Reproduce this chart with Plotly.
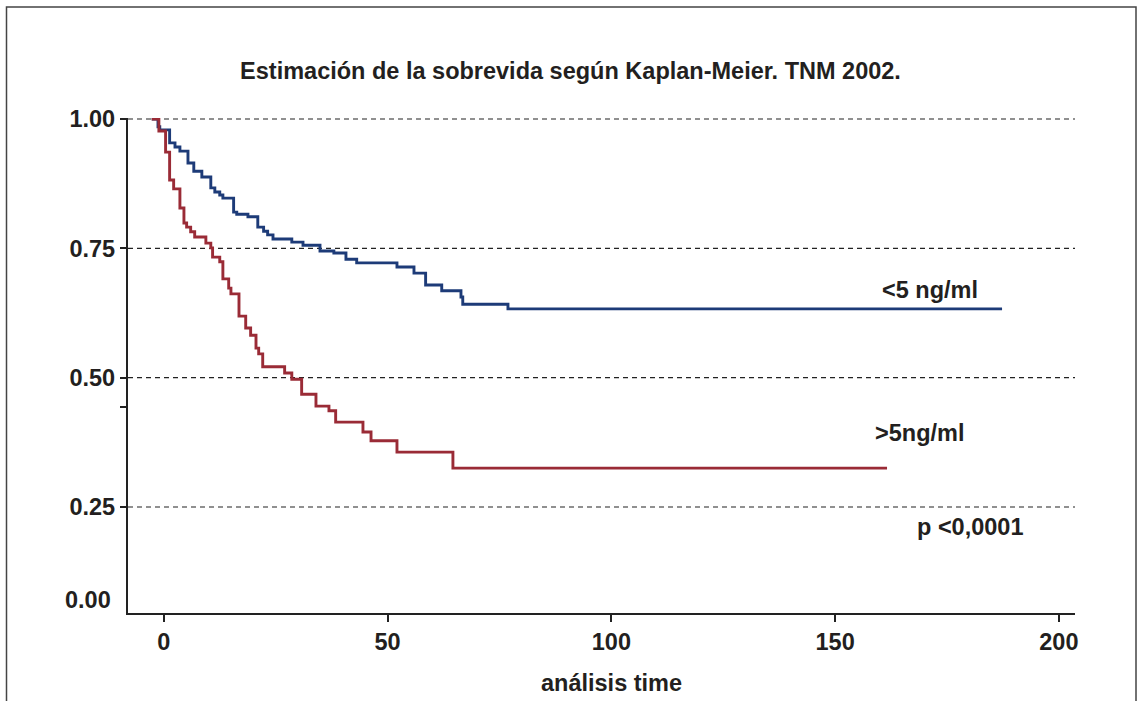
import plotly.graph_objects as go

# ---------------- data ----------------
# Kaplan-Meier step curves: times at which survival drops, and survival after each drop
low_times = [-2.7, -1.3, -0.9, 1.3, 2.5, 3.6, 5.4, 6.7, 8.5, 10.5, 11.4, 12.5, 13.2,
             15.6, 16.3, 18.8, 21.0, 22.3, 23.2, 24.4, 28.6, 31.1, 34.9, 38.0, 40.7,
             43.1, 52.1, 55.9, 58.5, 62.1, 66.4, 66.8, 76.9]
low_surv = [1.000, 0.985, 0.979, 0.954, 0.946, 0.938, 0.915, 0.899, 0.888, 0.867, 0.859,
            0.853, 0.847, 0.820, 0.816, 0.811, 0.791, 0.783, 0.776, 0.768, 0.762, 0.756,
            0.745, 0.741, 0.729, 0.722, 0.714, 0.702, 0.679, 0.668, 0.656, 0.642, 0.633]
low_end = 187.3

high_times = [-2.7, -1.1, 0.4, 1.3, 2.2, 3.6, 4.5, 5.1, 6.0, 6.9, 9.4, 10.5, 10.9, 12.5,
              13.2, 14.5, 15.0, 16.8, 18.3, 19.4, 20.6, 21.2, 22.1, 27.0, 28.6, 30.8,
              34.0, 36.9, 38.4, 44.5, 46.3, 52.1, 64.6]
high_surv = [1.000, 0.977, 0.936, 0.882, 0.865, 0.828, 0.799, 0.791, 0.782, 0.772, 0.760,
             0.751, 0.733, 0.724, 0.691, 0.673, 0.662, 0.619, 0.596, 0.582, 0.557, 0.546,
             0.521, 0.509, 0.497, 0.468, 0.445, 0.436, 0.414, 0.395, 0.378, 0.356, 0.325]
high_end = 161.6

x_ticks = [0, 50, 100, 150, 200]
y_ticks = [0.25, 0.50, 0.75, 1.00]
y_tick_labels = ["0.25", "0.50", "0.75", "1.00"]
y_extra_tick = 0.443  # unlabelled tick mark seen on the y axis

title_text = "Estimación de la sobrevida según Kaplan-Meier. TNM 2002."
x_title = "análisis time"
label_low = "<5 ng/ml"
label_high = ">5ng/ml"
p_text = "p <0,0001"

BLUE = "#1d3b78"
RED = "#9a2b36"
FONT = "Liberation Sans"
TXT = "#231f20"
FS = 23.5

fig = go.Figure()
fig.add_trace(go.Scatter(x=low_times + [low_end], y=low_surv + [low_surv[-1]],
                         mode="lines", line=dict(color=BLUE, width=2.9, shape="hv"),
                         name=label_low, hoverinfo="skip"))
fig.add_trace(go.Scatter(x=high_times + [high_end], y=high_surv + [high_surv[-1]],
                         mode="lines", line=dict(color=RED, width=2.9, shape="hv"),
                         name=label_high, hoverinfo="skip"))

# dashed horizontal grid lines at labelled y ticks
for yv in y_ticks:
    fig.add_shape(type="line", xref="paper", yref="y", x0=0, x1=1, y0=yv, y1=yv,
                  line=dict(color="#222222", width=1.1, dash="5px,4px"), layer="below")

# outer frame (open at the bottom, as in the reference)
fig.add_shape(type="rect", xref="paper", yref="paper",
              x0=(6.5 - 128) / 947, x1=(1136 - 128) / 947,
              y0=(613 - 760) / 495, y1=(613 - 7) / 495,
              line=dict(color="#444444", width=1.5))

ann_font = dict(family=FONT, size=FS, color=TXT)
fig.add_annotation(x=171.2, y=0.669, text=f"<b>{label_low}</b>", showarrow=False,
                   font=ann_font, xanchor="center", yanchor="middle")
fig.add_annotation(x=168.9, y=0.393, text=f"<b>{label_high}</b>", showarrow=False,
                   font=ann_font, xanchor="center", yanchor="middle")
fig.add_annotation(x=180.1, y=0.211, text=f"<b>{p_text}</b>", showarrow=False,
                   font=ann_font, xanchor="center", yanchor="middle")
# "0.00" label of the y axis
fig.add_annotation(xref="paper", yref="paper", x=(113 - 128) / 947, y=(613 - 600) / 495,
                   text="<b>0.00</b>", showarrow=False, font=ann_font,
                   xanchor="right", yanchor="middle")
# x-axis title
fig.add_annotation(xref="paper", yref="paper", x=(611 - 128) / 947, y=(613 - 683) / 495,
                   text=f"<b>{x_title}</b>", showarrow=False, font=ann_font,
                   xanchor="center", yanchor="middle")

y_vals = y_ticks + [y_extra_tick]
y_text = [f"<b>{t}</b>" for t in y_tick_labels] + [""]

fig.update_layout(
    width=1141, height=701,
    margin=dict(l=128, r=66, t=118, b=88),
    paper_bgcolor="white", plot_bgcolor="white",
    showlegend=False,
    title=dict(text=f"<b>{title_text}</b>", x=0.5, xref="container", xanchor="center",
               y=1 - 71 / 701, yref="container", yanchor="middle",
               font=dict(family=FONT, size=FS, color=TXT)),
    xaxis=dict(range=[-8.0, 203.6], tickvals=x_ticks,
               ticktext=[f"<b>{v}</b>" for v in x_ticks],
               showgrid=False, zeroline=False, showline=True, linecolor="#222222",
               linewidth=2.2, ticks="outside", ticklen=7, tickwidth=2, tickcolor="#222222",
               tickfont=dict(family=FONT, size=FS, color=TXT)),
    yaxis=dict(range=[0.045, 1.002], tickvals=y_vals, ticktext=y_text,
               showgrid=False, zeroline=False, showline=True, linecolor="#222222",
               linewidth=2.2, ticks="outside", ticklen=6, tickwidth=2, tickcolor="#222222",
               tickfont=dict(family=FONT, size=FS, color=TXT)),
)

fig.write_html("out.html", config={"displayModeBar": False},
               post_script="document.body.style.margin='0';document.body.style.overflow='hidden';")
